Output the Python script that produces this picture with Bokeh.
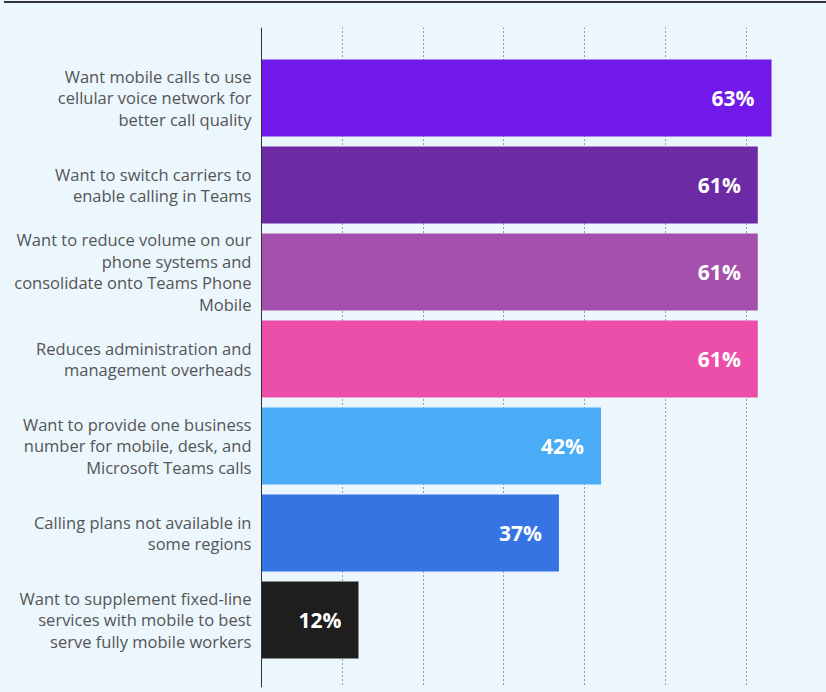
from bokeh.plotting import figure
from bokeh.models import ColumnDataSource, Range1d, Span, FixedTicker
from bokeh.core.properties import value
from bokeh.embed import file_html
from bokeh.resources import INLINE

categories = [
    "Want mobile calls to use\ncellular voice network for\nbetter call quality",
    "Want to switch carriers to\nenable calling in Teams",
    "Want to reduce volume on our\nphone systems and\nconsolidate onto Teams Phone\nMobile",
    "Reduces administration and\nmanagement overheads",
    "Want to provide one business\nnumber for mobile, desk, and\nMicrosoft Teams calls",
    "Calling plans not available in\nsome regions",
    "Want to supplement fixed-line\nservices with mobile to best\nserve fully mobile workers",
]
values = [63.1, 61.4, 61.4, 61.4, 42.0, 36.8, 12.0]
value_labels = ["63%", "61%", "61%", "61%", "42%", "37%", "12%"]
colors = ["#7119E8", "#6C2BA5", "#A450AC", "#EB4FAA", "#4AACF7", "#3574E2", "#1E1E1E"]
grid_ticks = [10, 20, 30, 40, 50, 60]

BG = "#EBF6FD"
pos = list(range(len(values)))
src = ColumnDataSource(dict(
    y=pos, v=values, c=colors, cat=categories,
    lx=[-1.24] * len(values),
    lbl=value_labels,
))

p = figure(width=826, height=692, output_backend="svg", toolbar_location=None,
           x_range=Range1d(-32.29, 69.9), y_range=Range1d(6.776, -0.81),
           min_border_left=0, min_border_right=0, min_border_top=27, min_border_bottom=5,
           background_fill_color=BG, border_fill_color=BG, outline_line_color=None)
p.axis.visible = False
p.ygrid.grid_line_color = None
p.xgrid.ticker = FixedTicker(ticks=grid_ticks)
p.xgrid.grid_line_color = "#444444"
p.xgrid.grid_line_dash = "1 3"
p.xgrid.grid_line_width = 1

p.hbar(y="y", left=0, right="v", height=0.885, fill_color="c", line_color=None, source=src)
p.add_layout(Span(location=0, dimension="height", line_color="#333333", line_width=1))

p.text(x="lx", y="y", text="cat", source=src, text_align="right", text_baseline="middle",
       text_font=value("Open Sans"), text_font_size="16.5px", text_color="#555555",
       text_line_height=0.94)
p.text(x="v", y="y", text="lbl", source=src, x_offset=-17, text_align="right",
       text_baseline="middle", text_font=value("Open Sans"), text_font_size="21px",
       text_font_style="bold", text_color="white")

html = file_html(p, INLINE)
css = ("<style>body{margin:0;background:%s;}"
       "body::before{content:'';position:fixed;top:1px;left:4px;right:0;height:2px;background:#333;z-index:10;}"
       "</style>") % BG
html = html.replace("<head>", "<head>" + css, 1)
open("out.html", "w").write(html)
